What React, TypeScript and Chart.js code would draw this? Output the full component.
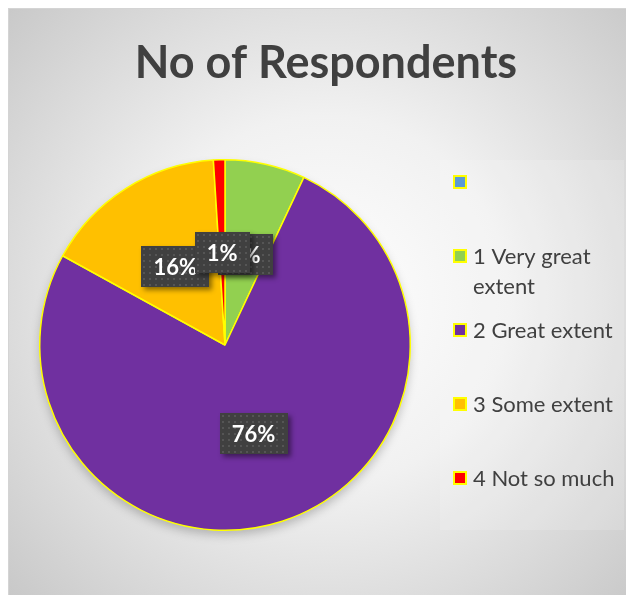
import React, { useEffect, useRef } from 'react';
import { Chart, registerables } from 'chart.js';

Chart.register(...registerables);

const chartTitle = 'No of Respondents';
const categories = ['', '1 Very great extent', '2 Great extent', '3 Some extent', '4 Not so much'];
const shares = [0, 7, 76, 16, 1];
const sliceColors = ['#5B9BD5', '#92D050', '#7030A0', '#FFC000', '#FF0000'];
const edgeColor = '#FFFF00';
const textColor = '#404040';

const W = 626;
const H = 595;

function wrapText(ctx: CanvasRenderingContext2D, text: string, maxW: number): string[] {
  const words = text.split(' ');
  const lines: string[] = [];
  let cur = '';
  for (const w of words) {
    const t = cur ? cur + ' ' + w : w;
    if (ctx.measureText(t).width > maxW && cur) {
      lines.push(cur);
      cur = w;
    } else cur = t;
  }
  lines.push(cur);
  return lines;
}

const backdropPlugin = {
  id: 'backdrop',
  beforeDraw(chart: any) {
    const ctx: CanvasRenderingContext2D = chart.ctx;
    ctx.save();
    ctx.fillStyle = '#ffffff';
    ctx.fillRect(0, 0, W, H);
    const g = ctx.createRadialGradient(325, 300, 0, 325, 300, 460);
    g.addColorStop(0, '#ffffff');
    g.addColorStop(0.4, '#f1f1f1');
    g.addColorStop(1, '#c4c4c4');
    ctx.fillStyle = g;
    ctx.fillRect(9, 9, W - 9, H - 9);
    ctx.strokeStyle = '#d4d4d4';
    ctx.lineWidth = 1;
    ctx.strokeRect(8.5, 8.5, W - 8, H - 8);
    // title
    ctx.fillStyle = textColor;
    ctx.font = 'bold 45px Lato, "Open Sans", sans-serif';
    ctx.textAlign = 'center';
    ctx.textBaseline = 'alphabetic';
    ctx.fillText(chartTitle, 326, 78);
    // legend area
    ctx.fillStyle = 'rgba(255,255,255,0.15)';
    ctx.fillRect(440, 160, 184, 370);
    ctx.font = '22px Lato, "Open Sans", sans-serif';
    ctx.textAlign = 'left';
    ctx.textBaseline = 'middle';
    categories.forEach((c, i) => {
      const cy = 182 + 74 * i;
      ctx.fillStyle = edgeColor;
      ctx.fillRect(453, cy - 7, 14, 14);
      ctx.fillStyle = sliceColors[i];
      ctx.fillRect(455, cy - 5, 10, 10);
      ctx.fillStyle = textColor;
      const lines = wrapText(ctx, c, 148);
      lines.forEach((ln, k) => ctx.fillText(ln, 473, cy + 1 + k * 30));
    });
    ctx.restore();
  },
  beforeDatasetsDraw(chart: any) {
    const meta = chart.getDatasetMeta(0);
    const arc = meta.data.find((a: any) => a && a.outerRadius);
    if (!arc) return;
    const ctx: CanvasRenderingContext2D = chart.ctx;
    ctx.save();
    ctx.filter = 'blur(5px)';
    ctx.fillStyle = 'rgba(0,0,0,0.22)';
    ctx.beginPath();
    ctx.arc(arc.x, arc.y + 5, arc.outerRadius, 0, Math.PI * 2);
    ctx.fill();
    ctx.restore();
  },
};

const labelPlugin = {
  id: 'pctLabels',
  afterDatasetsDraw(chart: any) {
    const ctx: CanvasRenderingContext2D = chart.ctx;
    const data = chart.data.datasets[0].data as number[];
    const total = data.reduce((a, b) => a + b, 0);
    const meta = chart.getDatasetMeta(0);
    ctx.save();
    ctx.font = 'bold 22px Lato, "Open Sans", sans-serif';
    meta.data.forEach((arc: any, i: number) => {
      const v = data[i];
      if (!v) return;
      const txt = Math.round((v / total) * 100) + '%';
      const p = arc.tooltipPosition();
      const tw = ctx.measureText(txt).width;
      const bw = Math.round(tw + 24);
      const bh = 41;
      const x0 = Math.round(p.x - bw / 2);
      const y0 = Math.round(p.y - bh / 2);
      ctx.save();
      ctx.shadowColor = 'rgba(0,0,0,0.45)';
      ctx.shadowBlur = 5;
      ctx.shadowOffsetX = 3;
      ctx.shadowOffsetY = 3;
      ctx.fillStyle = '#404040';
      ctx.fillRect(x0, y0, bw, bh);
      ctx.restore();
      ctx.save();
      ctx.beginPath();
      ctx.rect(x0, y0, bw, bh);
      ctx.clip();
      ctx.fillStyle = '#555555';
      for (let yy = y0 + 2; yy < y0 + bh; yy += 6) {
        for (let xx = x0 + 2; xx < x0 + bw; xx += 6) {
          ctx.fillRect(xx, yy, 2, 2);
        }
      }
      ctx.restore();
      ctx.fillStyle = '#ffffff';
      ctx.textAlign = 'center';
      ctx.textBaseline = 'middle';
      ctx.fillText(txt, p.x, y0 + bh / 2 + 1);
    });
    ctx.restore();
  },
};

export default function App() {
  const ref = useRef<HTMLCanvasElement>(null);
  useEffect(() => {
    if (!ref.current) return;
    const chart = new Chart(ref.current, {
      type: 'pie',
      data: {
        labels: categories,
        datasets: [
          {
            data: shares,
            backgroundColor: sliceColors,
            borderColor: edgeColor,
            borderWidth: 1.5,
          },
        ],
      },
      options: {
        responsive: false,
        devicePixelRatio: 1,
        animation: false,
        layout: { padding: { left: 39, top: 159, right: 215, bottom: 64 } },
        plugins: {
          legend: { display: false },
          title: { display: false },
          tooltip: { enabled: false },
        },
      },
      plugins: [backdropPlugin, labelPlugin],
    });
    return () => chart.destroy();
  }, []);
  return (
    <div style={{ position: 'fixed', left: 0, top: 0, width: W, height: H }}>
      <canvas ref={ref} width={W} height={H} style={{ display: 'block', width: W, height: H }} />
    </div>
  );
}
